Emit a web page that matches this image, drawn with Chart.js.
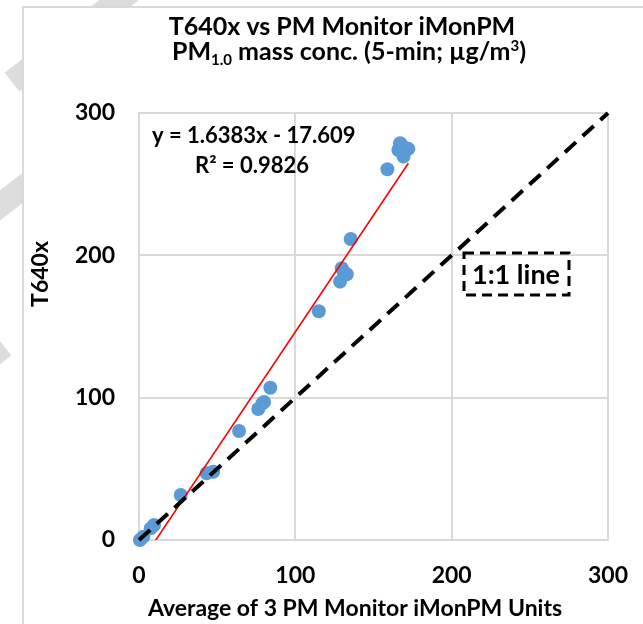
<!DOCTYPE html>
<html>
<head>
<meta charset="utf-8">
<title>T640x vs PM Monitor iMonPM</title>
<script src="https://cdn.jsdelivr.net/npm/chart.js@4.4.1/dist/chart.umd.min.js"></script>
<style>
	html, body { margin: 0; padding: 0; background: #fff; }
	#wrap { width: 643px; height: 624px; }
</style>
</head>
<body>
<div id="wrap"><canvas id="myChart" width="643" height="624"></canvas></div>
<script>
// values
const xVals = [0.6, 2.8, 7.5, 9.6, 26.7, 43.3, 47.5, 64, 76.3, 79, 80, 84, 115, 128.6, 129.7, 132.9, 131, 135.4, 158.9, 165.9, 167, 168, 169.2, 172.3];
const yVals = [0, 2.3, 8.2, 10.5, 31.6, 46.9, 48, 76.6, 92, 96, 97, 107, 160.7, 181.5, 191, 186.7, 188, 211.5, 260.5, 274, 278.8, 277.6, 269.4, 274.8];
const tickVals = [0, 100, 200, 300];
const trendSlope = 1.6383;
const trendIntercept = -17.609;
const rSquared = 0.9826;
const oneToOne = [0, 300];

const titleLine1 = 'T640x vs PM Monitor iMonPM';
const xTitle = 'Average of 3 PM Monitor iMonPM Units';
const yTitle = 'T640x';

const CryptoScatter = {
	init: function () {
		var
			sFont = 'Lato, "Open Sans", sans-serif'
			, sGrid = '#d9d9d9'
			, _bold = function (size) { return 'bold ' + size + 'px ' + sFont; }
			, _points = function () {
				return xVals.map((x, i) => ({ x: x, y: yVals[i] }));
			}
			, _trend = function () {
				const lo = Math.min(...xVals), hi = Math.max(...xVals);
				return [lo, hi].map(x => ({ x: x, y: trendSlope * x + trendIntercept }));
			}
			, backdrop = {
				id: 'backdrop',
				beforeDraw: function (chart) {
					const ctx = chart.ctx, w = chart.width, h = chart.height;
					ctx.save();
					ctx.fillStyle = '#fff';
					ctx.fillRect(0, 0, w, h);
					// faint diagonal stripes peeking out at the top-left
					ctx.strokeStyle = '#dcdcdc';
					ctx.lineWidth = 24;
					ctx.lineCap = 'butt';
					[[12, 82, 140, -16], [-100, 282, 200, 52], [-80, 410, 4, 346]].forEach(s => {
						ctx.beginPath();
						ctx.moveTo(s[0], s[1]);
						ctx.lineTo(s[2], s[3]);
						ctx.stroke();
					});
					ctx.fillStyle = '#fff';
					ctx.fillRect(22, 7, w, h);
					ctx.strokeStyle = sGrid;
					ctx.lineWidth = 2;
					ctx.beginPath();
					ctx.moveTo(23, h);
					ctx.lineTo(23, 7);
					ctx.lineTo(w, 7);
					ctx.stroke();
					ctx.restore();
				}
			}
			, labels = {
				id: 'labels',
				afterDraw: function (chart) {
					const ctx = chart.ctx;
					ctx.save();
					ctx.fillStyle = '#000';
					ctx.textBaseline = 'alphabetic';

					// title, line 1
					ctx.font = _bold(25);
					ctx.textAlign = 'center';
					ctx.fillText(titleLine1, 342, 35);

					// title, line 2 with sub- and superscript
					const parts = [
						['PM', 25, 0], ['1.0', 15, 5], [' mass conc. (5-min; \u00b5g/m', 25, 0], ['3', 15, -9], [')', 25, 0]
					];
					let total = 0;
					parts.forEach(p => { ctx.font = _bold(p[1]); total += ctx.measureText(p[0]).width; });
					let x = 349 - total / 2;
					ctx.textAlign = 'left';
					parts.forEach(p => {
						ctx.font = _bold(p[1]);
						ctx.fillText(p[0], x, 60 + p[2]);
						x += ctx.measureText(p[0]).width;
					});

					// trendline equation
					ctx.font = _bold(22);
					ctx.fillText('y = ' + trendSlope + 'x - ' + (-trendIntercept), 152, 143);
					ctx.fillText('R\u00b2 = ' + rSquared, 195, 173);

					// 1:1 line label
					ctx.font = _bold(27);
					ctx.textAlign = 'center';
					ctx.fillText('1:1 line', 516, 284);
					ctx.setLineDash([10, 6]);
					ctx.lineWidth = 3;
					ctx.strokeStyle = '#000';
					ctx.strokeRect(464, 253, 105, 42);
					ctx.setLineDash([]);

					// axis titles
					ctx.font = _bold(23);
					ctx.fillText(xTitle, 355, 616);
					ctx.translate(48, 274);
					ctx.rotate(-Math.PI / 2);
					ctx.fillText(yTitle, 0, 0);
					ctx.restore();
				}
			}
			, _axis = function (pad, fit) {
				return {
					type: 'linear',
					min: tickVals[0],
					max: tickVals[tickVals.length - 1],
					afterBuildTicks: function (scale) { scale.ticks = tickVals.map(v => ({ value: v })); },
					afterFit: function (s) {
						fit(s);
						s.paddingLeft = 0; s.paddingRight = 0; s.paddingTop = 0; s.paddingBottom = 0;
					},
					grid: { color: sGrid, lineWidth: 2, drawTicks: false },
					border: { color: sGrid, width: 2 },
					ticks: { padding: pad, color: '#000', font: { family: sFont, size: 23, weight: 'bold' } }
				};
			}
			, _createScatter = function () {
				const ctx = document.getElementById('myChart');
				new Chart(ctx, {
					type: 'scatter',
					data: {
						datasets: [{
							label: '1:1',
							type: 'line',
							data: oneToOne.map(v => ({ x: v, y: v })),
							borderColor: '#000',
							borderWidth: 4,
							borderDash: [15, 9],
							pointRadius: 0,
							clip: 4
						}, {
							label: 'Linear (T640x)',
							type: 'line',
							data: _trend(),
							borderColor: '#ff0000',
							borderWidth: 1.6,
							pointRadius: 0
						}, {
							label: 'T640x',
							data: _points(),
							backgroundColor: '#5b9bd5',
							borderWidth: 0,
							pointRadius: 7,
							clip: false
						}]
					},
					options: {
						responsive: false,
						animation: false,
						devicePixelRatio: 1,
						layout: { padding: { left: 22, top: 113, right: 35, bottom: 0 } },
						plugins: { legend: { display: false }, tooltip: { enabled: false }, title: { display: false } },
						scales: {
							x: _axis(22, function (s) { s.height = 84; }),
							y: _axis(24, function (s) { s.width = 117; })
						}
					},
					plugins: [backdrop, labels]
				});
			}
			;

		return {
			init: _createScatter()
		}
	}
};

CryptoScatter.init();
</script>
</body>
</html>
